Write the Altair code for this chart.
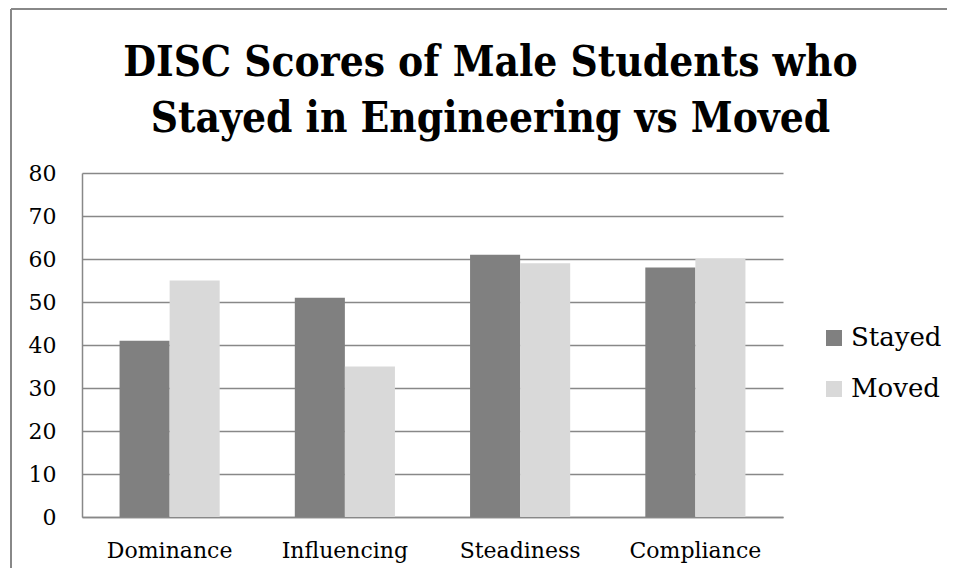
import altair as alt
import pandas as pd

categories = ["Dominance", "Influencing", "Steadiness", "Compliance"]
series = ["Stayed", "Moved"]
stayed = [41, 51, 61, 58]
moved = [55, 35, 59, 60]
y_ticks = [0, 10, 20, 30, 40, 50, 60, 70, 80]

rows = []
for c, s, m in zip(categories, stayed, moved):
    rows.append({"category": c, "group": "Stayed", "value": s})
    rows.append({"category": c, "group": "Moved", "value": m})
df = pd.DataFrame(rows)

FONT = "DejaVu Serif"
TFONT = "'DejaVu Serif Condensed', 'DejaVu Serif'"
W, H = 701, 344

bars = alt.Chart(df).mark_bar().encode(
    x=alt.X("category:N", sort=categories, title=None,
            scale=alt.Scale(paddingInner=0.4286, paddingOuter=0.2143),
            axis=alt.Axis(labelAngle=0, labelFont=FONT, labelFontSize=22,
                          labelColor="#000000", labelPadding=23, ticks=False,
                          domainColor="#888888", domainWidth=1.5)),
    xOffset=alt.XOffset("group:N", sort=series, scale=alt.Scale(paddingInner=0, paddingOuter=0)),
    y=alt.Y("value:Q", title=None,
            scale=alt.Scale(domain=[0, 80], nice=False),
            axis=alt.Axis(values=y_ticks, labelFont=FONT, labelFontSize=22,
                          labelColor="#000000", labelPadding=26, ticks=False,
                          grid=True, gridColor="#888888", gridWidth=1.5,
                          domainColor="#888888", domainWidth=1.5)),
    color=alt.Color("group:N", sort=series,
                    scale=alt.Scale(domain=series, range=["#808080", "#d9d9d9"]),
                    legend=alt.Legend(title=None, orient="none", legendX=739, legendY=152,
                                      symbolType="square", symbolSize=256,
                                      symbolStrokeWidth=0, labelFont=FONT,
                                      labelFontSize=26, labelColor="#000000",
                                      rowPadding=25, labelOffset=4)),
)

border_top = alt.Chart(df).mark_rule(color="#888888", strokeWidth=1.5).encode(
    x=alt.value(-71), x2=alt.value(900), y=alt.value(-164))
border_left = alt.Chart(df).mark_rule(color="#888888", strokeWidth=1.5).encode(
    x=alt.value(-71), y=alt.value(-164), y2=alt.value(420))

chart = alt.layer(border_top, border_left, bars).properties(
    width=W, height=H,
    padding={"left": 74, "top": 165, "right": 164, "bottom": 51},
    autosize=alt.AutoSizeParams(type="none"),
    title=alt.TitleParams(
        ["DISC Scores of Male Students who", "Stayed in Engineering vs Moved"],
        font=TFONT, fontSize=42, fontWeight="bold", color="#000000",
        anchor="middle", dx=58, offset=-133, lineHeight=56),
).configure_view(stroke=None).configure_axis(labelFont=FONT)

chart.save("out.html", embed_options={"renderer": "svg", "actions": False})
